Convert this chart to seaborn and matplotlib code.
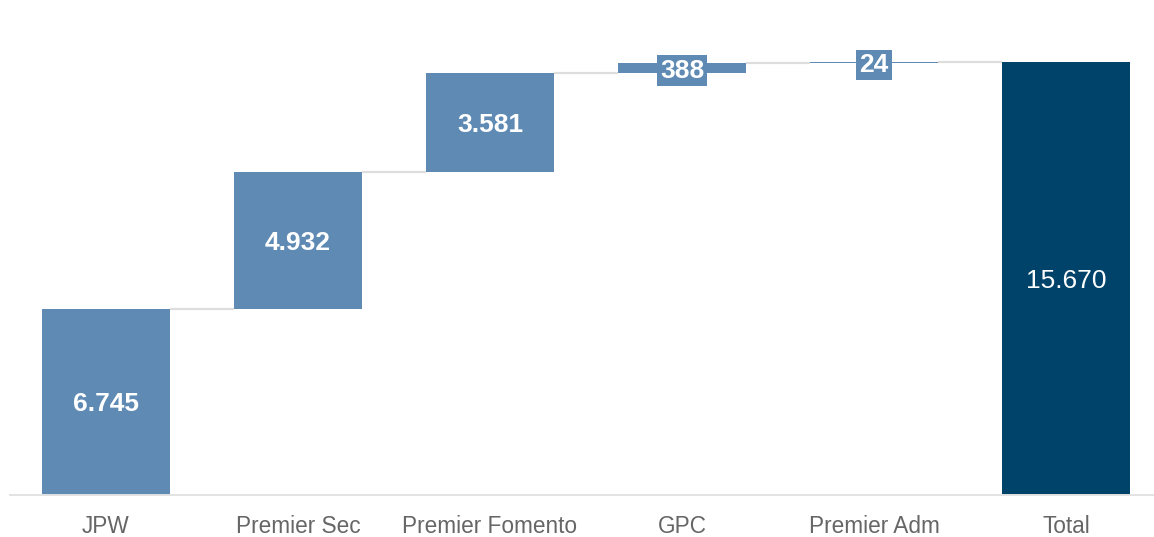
import numpy as np
import pandas as pd
import seaborn as sns
import matplotlib.pyplot as plt

# Waterfall data
categories = ["JPW", "Premier Sec", "Premier Fomento", "GPC", "Premier Adm", "Total"]
increments = [6745, 4932, 3581, 388, 24]
total = 15670

bar_color = "#5e8ab4"
total_color = "#00436a"
connector_color = "#dddddd"


def fmt(v):
    return f"{v:,}".replace(",", ".")


sns.set_theme(style="white")
plt.rcParams["font.family"] = ["Liberation Sans", "DejaVu Sans"]

heights = increments + [total]
bottoms = list(np.concatenate([[0], np.cumsum(increments)[:-1]])) + [0]
tops = [b + h for b, h in zip(bottoms, heights)]

df = pd.DataFrame({"category": categories, "value": heights})

fig = plt.figure(figsize=(11.54, 5.37), dpi=100)
ax = fig.add_axes([10 / 1154, 42 / 537, 1152 / 1154, 495 / 537])

sns.barplot(data=df, x="category", y="value", order=categories,
            palette=[bar_color] * 5 + [total_color], hue="category",
            legend=False, width=2 / 3, linewidth=0, saturation=1, ax=ax)

# shift bars up to their running total
for patch, b in zip(ax.patches, bottoms):
    patch.set_y(b)

# connectors between bars
half = 1 / 3
for i in range(len(categories) - 1):
    level = tops[i]
    ax.plot([i + half, i + 1 - half], [level, level], color=connector_color,
            linewidth=1.6, solid_capstyle="butt", zorder=1)

# value labels
for i, (b, h) in enumerate(zip(bottoms, heights)):
    mid = b + h / 2
    if i == len(categories) - 1:
        ax.text(i, mid, fmt(h), ha="center", va="center_baseline",
                color="white", fontsize=19)
    elif h < 1500:
        ax.text(i, mid, fmt(h), ha="center", va="center_baseline",
                color="white", fontsize=19, fontweight="bold",
                bbox=dict(boxstyle="square,pad=0.12", facecolor=bar_color,
                          edgecolor="none"))
    else:
        ax.text(i, mid, fmt(h), ha="center", va="center_baseline",
                color="white", fontsize=19, fontweight="bold")

ax.set_xlim(-0.5, 5.5)
ax.set_ylim(0, total * 495 / 433)
ax.set_xlabel("")
ax.set_ylabel("")
ax.set_yticks([])
ax.tick_params(axis="x", length=0, pad=14.5, labelsize=16.3, labelcolor="#666666")
for side in ["top", "left", "right"]:
    ax.spines[side].set_visible(False)
ax.spines["bottom"].set_color("#e3e3e3")
ax.spines["bottom"].set_linewidth(1.4)

fig.savefig("out.png", dpi=100)
